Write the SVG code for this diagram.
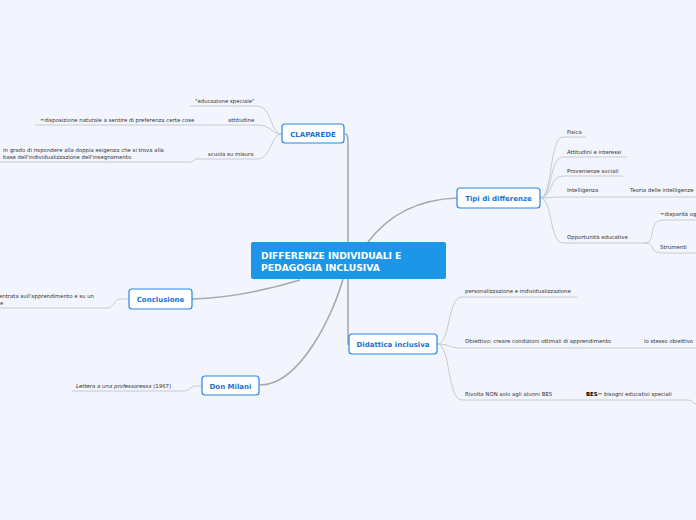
<svg xmlns="http://www.w3.org/2000/svg" width="696" height="520" viewBox="0 0 696 520">
<style>
.bg{fill:#f2f5fd}
.main{fill:none;stroke:#a9a9ad;stroke-width:1.6}
.thin{fill:none;stroke:#c9cacf;stroke-width:1}
.node rect{fill:#ffffff;stroke:#2a86e2;stroke-width:1.2}
.node text{font-family:"DejaVu Sans",sans-serif;font-weight:bold;font-size:7px;fill:#1a72d4;text-anchor:middle}
.root rect{fill:#1c96e8}
.root text{font-family:"DejaVu Sans",sans-serif;font-weight:bold;font-size:9.2px;fill:#ffffff}
.t{font-family:"DejaVu Sans",sans-serif;font-size:5.4px;fill:#333333}
</style>
<rect class="bg" x="0" y="0" width="696" height="520"/>
<g id="connectors">
  <path class="main" d="M345,134 C348,134 348,138 348,146 L348,245"/>
  <path class="main" d="M368,242 Q400,200 457,198"/>
  <path class="main" d="M348,276 L348,344 L350,344"/>
  <path class="main" d="M300,280 Q240,298 192,299"/>
  <path class="main" d="M343,279 C333,315 300,385 260,385"/>
  <path class="thin" d="M282,134 C270,134 272,106 257,106 L190,106"/>
  <path class="thin" d="M282,134 C270,134 272,125 257,125 L35,125"/>
  <path class="thin" d="M282,134 C270,134 272,159 257,159 L198,159 C193,159 194,162 189,162 L0,162"/>
  <path class="thin" d="M540,198 C553,198 549,137 563,137 L586,137"/>
  <path class="thin" d="M540,198 C553,198 549,157 563,157 L627,157"/>
  <path class="thin" d="M540,198 C553,198 549,176 563,176 L623,176"/>
  <path class="thin" d="M540,198 C553,198 549,197 563,197 L696,197"/>
  <path class="thin" d="M540,198 C553,198 549,243 563,243 L644,243"/>
  <path class="thin" d="M644,243 C658,243 646,220 664,220 L696,220"/>
  <path class="thin" d="M644,243 C658,243 646,253 664,253 L696,253"/>
  <path class="thin" d="M437,344 C451,344 447,297 462,297 L577,297"/>
  <path class="thin" d="M437,344 C451,344 447,348 462,348 L696,348"/>
  <path class="thin" d="M437,344 C451,344 447,400 462,400 L688,400 C692,400 692,403 696,404"/>
  <path class="thin" d="M129,299 L120,299 C114,299 114,308 107,308 L0,308"/>
  <path class="thin" d="M202,386 L196,386 C190,386 190,391 184,391 L72,391"/>
</g>
<g id="root" class="root">
  <rect x="251" y="242" width="195" height="37" rx="2"/>
  <text x="261" y="259">DIFFERENZE INDIVIDUALI E</text>
  <text x="261" y="271">PEDAGOGIA INCLUSIVA</text>
</g>
<g id="claparede" class="node">
  <rect x="282" y="124" width="62" height="19" rx="3"/>
  <text x="313" y="136.5">CLAPAREDE</text>
</g>
<g id="tipi" class="node">
  <rect x="457" y="188" width="83" height="20" rx="3"/>
  <text x="498.5" y="200.5">Tipi di differenze</text>
</g>
<g id="didattica" class="node">
  <rect x="349" y="334" width="88" height="20" rx="3"/>
  <text x="393" y="346.5">Didattica inclusiva</text>
</g>
<g id="conclusione" class="node">
  <rect x="129" y="289" width="63" height="20" rx="3"/>
  <text x="160.5" y="301.5">Conclusione</text>
</g>
<g id="donmilani" class="node">
  <rect x="202" y="376" width="57" height="19" rx="3"/>
  <text x="230.5" y="388.5">Don Milani</text>
</g>
<g id="claparede-children">
  <text class="t" x="195" y="103">"educazione speciale"</text>
  <text class="t" x="228" y="122">attitudine</text>
  <text class="t" x="40" y="122">=disposizione naturale a sentire di preferenza certe cose</text>
  <text class="t" x="208" y="156">scuola su misura</text>
  <text class="t" x="3" y="152">in grado di rispondere alla doppia esigenza che si trova alla</text>
  <text class="t" x="3" y="159">base dell'individualizzazione dell'insegnamento</text>
</g>
<g id="tipi-children">
  <text class="t" x="567" y="134">Fisica</text>
  <text class="t" x="567" y="154">Attitudini e interessi</text>
  <text class="t" x="567" y="173">Provenienze sociali</text>
  <text class="t" x="567" y="192">Intelligenza</text>
  <text class="t" x="630" y="192">Teoria delle intelligenze</text>
  <text class="t" x="567" y="239">Opportunità educative</text>
  <text class="t" x="660" y="216">=disparità og</text>
  <text class="t" x="660" y="249">Strumenti</text>
</g>
<g id="didattica-children">
  <text class="t" x="465" y="293">personalizzazione e individualizzazione</text>
  <text class="t" x="465" y="343">Obiettivo:  creare condizioni ottimali di apprendimento</text>
  <text class="t" x="644" y="343">lo stesso obiettivo</text>
  <text class="t" x="465" y="396">Rivolta NON solo agli alunni BES</text>
  <text class="t" x="586" y="396"><tspan font-weight="bold" fill="#000">BES</tspan>= bisogni educativi speciali</text>
</g>
<g id="conclusione-child">
  <text class="t" x="-1" y="298">entrata sull'apprendimento e su un</text>
  <text class="t" x="0" y="305">e</text>
</g>
<g id="donmilani-child">
  <text class="t" x="76" y="388"><tspan font-style="italic">Lettera a una professoressa</tspan> (1967)</text>
</g>
</svg>
